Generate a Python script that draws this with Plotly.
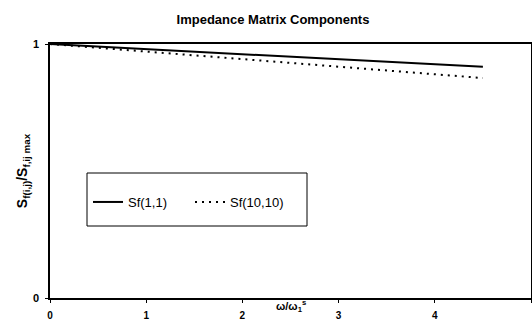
import plotly.graph_objects as go

x_vals = [0, 0.5, 1.0, 1.5, 2.0, 2.5, 3.0, 3.5, 4.0, 4.5]
sf_1_1 = [1.0, 0.990, 0.981, 0.971, 0.961, 0.951, 0.941, 0.931, 0.920, 0.910]
sf_10_10 = [1.0, 0.985, 0.970, 0.955, 0.940, 0.925, 0.910, 0.895, 0.880, 0.866]
x_ticks = [0, 1, 2, 3, 4, 5]
y_ticks = [0, 1]

FONT = "Liberation Sans, Arial, sans-serif"

fig = go.Figure()
fig.add_trace(go.Scatter(x=x_vals, y=sf_1_1, mode="lines", name="Sf(1,1)",
                         line=dict(color="black", width=2)))
fig.add_trace(go.Scatter(x=x_vals, y=sf_10_10, mode="lines", name="Sf(10,10)",
                         line=dict(color="black", width=2, dash="2px,5px")))

L, R, T, B = 50, 1, 44, 26
W, H = 532, 324
pw, ph = W - L - R, H - T - B

def px_x(p):
    return (p - L) / pw

def px_y(p):
    return (H - B - p) / ph

fig.add_shape(type="rect", xref="paper", yref="paper",
              x0=px_x(87), x1=px_x(307), y0=px_y(226), y1=px_y(173),
              line=dict(color="black", width=1), fillcolor="rgba(0,0,0,0)")

fig.add_annotation(x=2.5, y=px_y(316), xref="x", yref="paper",
                   text="<b>ω/ω<sub>1</sub><sup>s</sup></b>", showarrow=False,
                   font=dict(family=FONT, size=11, color="black"))

fig.update_layout(
    width=W, height=H,
    margin=dict(l=L, r=R, t=T, b=B, autoexpand=False),
    paper_bgcolor="white", plot_bgcolor="white",
    font=dict(family=FONT, color="black"),
    title=dict(text="<b>Impedance Matrix Components</b>", x=273 / W, xanchor="center",
               y=1 - 19 / H, yanchor="middle", automargin=False,
               font=dict(family=FONT, size=13, color="black")),
    showlegend=True,
    legend=dict(orientation="h", x=px_x(88), xanchor="left", y=px_y(202), yanchor="middle",
                bgcolor="rgba(0,0,0,0)", borderwidth=0, entrywidth=57, entrywidthmode="pixels",
                font=dict(family=FONT, size=13, color="black"), itemwidth=30),
    xaxis=dict(range=[0, 5], tickvals=x_ticks, ticktext=[f"<b>{v}</b>" for v in x_ticks],
               showgrid=False, zeroline=False, showline=True, linecolor="black", linewidth=1.5,
               mirror=True, ticks="outside", ticklen=3, tickcolor="black", automargin=False,
               ticklabelstandoff=4,
               tickfont=dict(family=FONT, size=10, color="black")),
    yaxis=dict(range=[0, 1], tickvals=y_ticks, ticktext=[f"<b>{v}</b>" for v in y_ticks],
               showgrid=False, zeroline=False, showline=True, linecolor="black", linewidth=1.5,
               mirror=True, ticks="outside", ticklen=3, tickcolor="black", automargin=False,
               ticklabelstandoff=4,
               tickfont=dict(family=FONT, size=11, color="black"),
               title=dict(text="<b>S<sub>f(i,j)</sub>/S<sub>f,ij max</sub></b>", standoff=2,
                          font=dict(family=FONT, size=14, color="black"))),
)

fig.write_html("out.html", config={"displayModeBar": False},
               post_script="document.body.style.margin='0';document.body.style.overflow='hidden';")
